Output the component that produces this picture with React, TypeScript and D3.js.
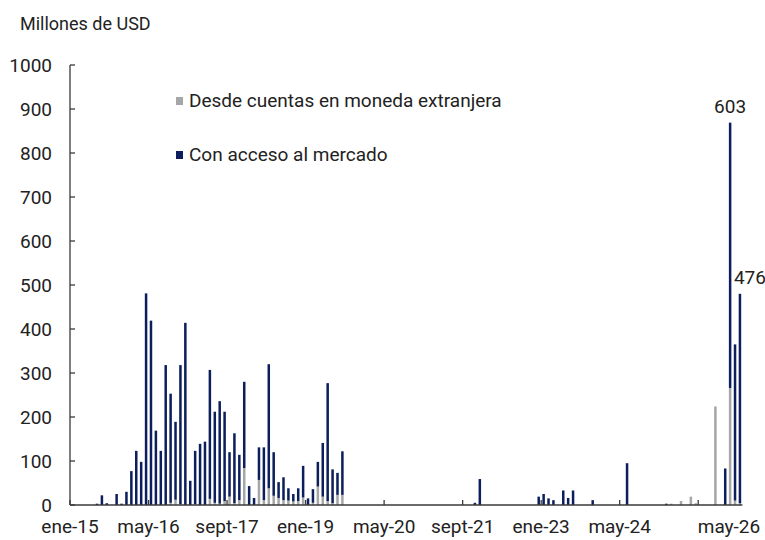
import React from "react";
import * as d3 from "d3";

const MONTHS_ES = ["ene", "feb", "mar", "abr", "may", "jun", "jul", "ago", "sept", "oct", "nov", "dic"];
const START_YEAR = 2015;
const N_MONTHS = 137;
const categories: string[] = d3.range(N_MONTHS).map(
  (i) => `${MONTHS_ES[i % 12]}-${String((START_YEAR + Math.floor(i / 12)) % 100).padStart(2, "0")}`
);

// Con acceso al mercado (navy), monthly, one row per year (2015 … may-2026)
const mercado: number[] = [
  0, 0, 0, 0, 0, 3, 22, 4, 0, 25, 3, 30,
  77, 123, 98, 481, 419, 169, 123, 318, 248, 177, 316, 414,
  55, 121, 139, 144, 293, 207, 233, 203, 101, 159, 103, 196,
  43, 16, 74, 120, 282, 99, 36, 52, 28, 17, 29, 72,
  15, 31, 56, 122, 268, 77, 50, 99, 0, 0, 0, 0,
  0, 0, 0, 0, 0, 0, 0, 0, 0, 0, 0, 0,
  0, 0, 0, 0, 0, 0, 0, 0, 0, 0, 5, 59,
  0, 0, 0, 0, 0, 0, 0, 0, 0, 0, 0, 19,
  25, 15, 11, 0, 33, 16, 33, 0, 0, 0, 11, 0,
  0, 0, 0, 0, 0, 95, 0, 0, 0, 0, 0, 0,
  0, 3, 0, 0, 0, 0, 0, 0, 0, 0, 0, 0,
  0, 83, 603, 355, 476,
];

// Desde cuentas en moneda extranjera (grey), monthly, one row per year
const cuentas: number[] = [
  0, 0, 0, 0, 0, 0, 0, 0, 0, 0, 0, 0,
  0, 0, 0, 0, 0, 0, 0, 0, 5, 12, 2, 0,
  0, 2, 0, 0, 14, 5, 3, 9, 19, 4, 11, 84,
  0, 0, 57, 11, 38, 21, 16, 11, 10, 8, 9, 17,
  0, 5, 42, 19, 9, 4, 23, 23, 0, 0, 0, 0,
  0, 0, 0, 0, 0, 0, 0, 0, 0, 0, 0, 0,
  0, 0, 0, 0, 0, 0, 0, 0, 0, 0, 0, 0,
  0, 0, 0, 0, 0, 0, 0, 0, 0, 0, 0, 0,
  0, 0, 0, 0, 0, 0, 0, 0, 0, 0, 0, 0,
  0, 0, 0, 0, 0, 0, 0, 0, 0, 0, 0, 0,
  0, 0, 3, 0, 9, 0, 19, 4, 0, 0, 0, 224,
  0, 0, 266, 10, 4,
];

const seriesNames = ["Desde cuentas en moneda extranjera", "Con acceso al mercado"];
const seriesKeys = ["cuentas", "mercado"];
const yTicks = [0, 100, 200, 300, 400, 500, 600, 700, 800, 900, 1000];
const xTickCats = ["ene-15", "may-16", "sept-17", "ene-19", "may-20", "sept-21", "ene-23", "may-24", "sept-25"];
const xLabelCats = ["ene-15", "may-16", "sept-17", "ene-19", "may-20", "sept-21", "ene-23", "may-24", "may-26"];
const annotations = [
  { cat: "mar-26", text: "603", dx: 0 },
  { cat: "may-26", text: "476", dx: 10 },
];

const W = 765;
const H = 540;
const NAVY = "#0c1f5c";
const GREY = "#a6a6a6";
const AXIS = "#3a3a3a";
const FONT = "Roboto, 'Noto Sans', sans-serif";

export default function App() {
  const x0 = 70;
  const step = 4.908;
  const x = d3.scaleBand<string>().domain(categories).range([x0, x0 + step * N_MONTHS]).padding(0);
  const y = d3.scaleLinear().domain([0, 1000]).range([505, 65]);
  const barW = 2.5;

  const rows = categories.map((c, i) => ({ cat: c, cuentas: cuentas[i] || 0, mercado: mercado[i] || 0 }));
  const stack = d3.stack<any>().keys(seriesKeys)(rows);
  const colors: Record<string, string> = { cuentas: GREY, mercado: NAVY };

  const cx = (c: string) => (x(c) as number) + x.bandwidth() / 2;

  return (
    <svg width={W} height={H} style={{ position: "absolute", left: 0, top: 0, background: "#fff" }} fontFamily={FONT}>
      <text x={20} y={30} fontSize={18} fill="#222">Millones de USD</text>

      {/* bars */}
      {stack.map((s) => (
        <g key={s.key} fill={colors[s.key]}>
          {s.map((d, i) =>
            d[1] - d[0] > 0 ? (
              <rect key={i} x={cx(categories[i]) - barW / 2} width={barW} y={y(d[1])} height={y(d[0]) - y(d[1])} />
            ) : null
          )}
        </g>
      ))}

      {/* y axis */}
      <line x1={x0} x2={x0} y1={y(1000)} y2={y(0)} stroke={AXIS} strokeWidth={1.3} />
      {yTicks.map((t) => (
        <g key={t}>
          <line x1={x0} x2={x0 + 5} y1={y(t)} y2={y(t)} stroke={AXIS} strokeWidth={1.3} />
          <text x={52} y={y(t)} dy="0.36em" textAnchor="end" fontSize={19} fill="#222">{t}</text>
        </g>
      ))}

      {/* x axis */}
      <line x1={x0} x2={x.range()[1]} y1={y(0)} y2={y(0)} stroke={AXIS} strokeWidth={1.3} />
      {xTickCats.map((c) => (
        <line key={c} x1={x(c)} x2={x(c)} y1={y(0)} y2={y(0) - 5} stroke={AXIS} strokeWidth={1.3} />
      ))}
      {xLabelCats.map((c) => {
        const px = Math.min(x(c) as number, W - 36);
        return (
          <text key={c} x={px} y={533} textAnchor="middle" fontSize={19} fill="#222">{c}</text>
        );
      })}

      {/* annotations */}
      {annotations.map((a) => {
        const i = categories.indexOf(a.cat);
        const top = y(cuentas[i] + mercado[i]);
        return (
          <text key={a.cat} x={cx(a.cat) + a.dx} y={top - 10} textAnchor="middle" fontSize={19} fill="#222">{a.text}</text>
        );
      })}

      {/* legend */}
      {seriesNames.map((n, k) => (
        <g key={n} transform={`translate(176, ${97 + k * 54})`}>
          <rect x={0} y={0} width={7} height={8} fill={k === 0 ? GREY : NAVY} />
          <text x={13} y={10} fontSize={19} fill="#222">{n}</text>
        </g>
      ))}
    </svg>
  );
}
